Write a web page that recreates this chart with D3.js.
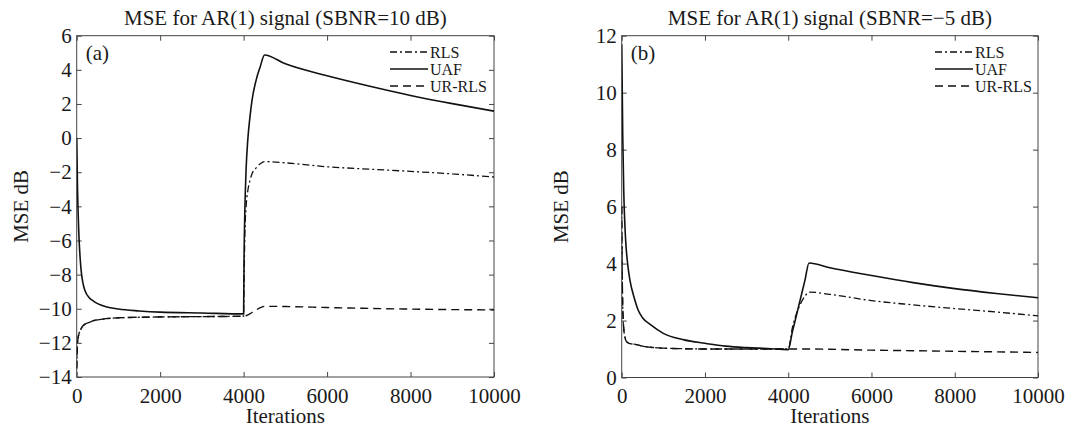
<!DOCTYPE html>
<html>
<head>
<meta charset="utf-8">
<script src="https://cdn.jsdelivr.net/npm/d3@7"></script>
<style>
  html, body { margin: 0; padding: 0; background: #fff; }
  svg { display: block; }
  text { font-family: "Liberation Serif", "DejaVu Serif", serif; fill: #1a1a1a; }
</style>
</head>
<body>
<svg id="chart" width="1068" height="430"></svg>
<script>
// ---------- DATA ----------
const seriesNames = ["RLS", "UAF", "UR-RLS"];
const xTicks = [0, 2000, 4000, 6000, 8000, 10000];

// Panel (a): SBNR = 10 dB
const titleA = "MSE for AR(1) signal (SBNR=10 dB)";
const yTicksA = [-14, -12, -10, -8, -6, -4, -2, 0, 2, 4, 6];
const iterA = [0, 20, 50, 100, 150, 200, 300, 400, 500, 700, 1000, 1500, 2000, 3000, 4000,
               4010, 4030, 4060, 4100, 4150, 4200, 4300, 4400, 4500, 5000, 6000, 7000, 8000, 9000, 10000];
const uafA = [0, -3, -5.5, -7.6, -8.5, -8.95, -9.35, -9.55, -9.7, -9.88, -10.02, -10.13, -10.2, -10.25, -10.3,
              -7.2, -4.2, -1.8, -0.1, 1.2, 2.2, 3.4, 4.2, 4.87, 4.35, 3.65, 3.05, 2.5, 2.02, 1.58];
const rlsA = [-13.5, -12.0, -11.5, -11.2, -11.0, -10.9, -10.8, -10.7, -10.65, -10.58, -10.53, -10.5, -10.48, -10.46, -10.44,
              -8.5, -5.6, -4.0, -3.1, -2.5, -2.1, -1.75, -1.5, -1.38, -1.45, -1.68, -1.82, -1.95, -2.1, -2.28];
const urrlsA = [-13.5, -12.0, -11.5, -11.2, -11.0, -10.9, -10.8, -10.7, -10.65, -10.58, -10.53, -10.5, -10.48, -10.46, -10.44,
                -10.43, -10.42, -10.41, -10.36, -10.3, -10.22, -10.07, -9.94, -9.86, -9.87, -9.93, -9.98, -10.02, -10.05, -10.07];

// Panel (b): SBNR = -5 dB
const titleB = "MSE for AR(1) signal (SBNR=\u22125 dB)";
const yTicksB = [0, 2, 4, 6, 8, 10, 12];
const iterB = [0, 10, 25, 50, 75, 100, 150, 200, 300, 400, 500, 700, 1000, 1500, 2000, 2500, 3000, 3500, 4000,
               4100, 4200, 4300, 4400, 4500, 5000, 6000, 7000, 8000, 9000, 10000];
const uafB = [11.7, 10.5, 8.5, 6.5, 5.4, 4.7, 3.9, 3.4, 2.8, 2.35, 2.1, 1.85, 1.55, 1.32, 1.2, 1.1, 1.05, 1.02, 0.98,
              1.6, 2.2, 2.8, 3.4, 4.02, 3.85, 3.58, 3.33, 3.12, 2.95, 2.8];
const rlsB = [6.0, 4.0, 2.5, 1.7, 1.45, 1.3, 1.22, 1.19, 1.17, 1.14, 1.1, 1.06, 1.03, 1.01, 1.0, 1.0, 1.0, 1.0, 1.0,
              1.75, 2.25, 2.6, 2.85, 3.0, 2.92, 2.7, 2.55, 2.42, 2.3, 2.16];
const urrlsB = [6.0, 4.0, 2.5, 1.7, 1.45, 1.3, 1.22, 1.19, 1.17, 1.14, 1.1, 1.06, 1.03, 1.01, 1.0, 1.0, 1.0, 1.0, 1.0,
                1.0, 1.0, 1.0, 1.0, 1.0, 0.99, 0.96, 0.94, 0.92, 0.9, 0.88];

// ---------- STYLE ----------
const styles = {
  "RLS":    { dash: "7,3,2,3", width: 1.3 },
  "UAF":    { dash: null,      width: 1.6 },
  "UR-RLS": { dash: "8,5",     width: 1.4 }
};

const svg = d3.select("#chart");

function panel(cfg) {
  const x = d3.scaleLinear().domain([0, 10000]).range([cfg.left, cfg.right]);
  const y = d3.scaleLinear().domain(cfg.yDomain).range([cfg.bottom, cfg.top]);
  const g = svg.append("g");

  const clipId = "clip" + cfg.id;
  svg.append("clipPath").attr("id", clipId).append("rect")
    .attr("x", cfg.left).attr("y", cfg.top)
    .attr("width", cfg.right - cfg.left).attr("height", cfg.bottom - cfg.top);

  // axes
  const fs = "21px";
  const bx = g.append("g").attr("transform", `translate(0,${cfg.bottom})`)
    .call(d3.axisBottom(x).tickValues(xTicks).tickFormat(d3.format("d")).tickSizeInner(-5).tickSizeOuter(0).tickPadding(11));
  const lx = g.append("g").attr("transform", `translate(${cfg.left},0)`)
    .call(d3.axisLeft(y).tickValues(cfg.yTicks).tickFormat(d3.format("d")).tickSizeInner(-5).tickSizeOuter(0).tickPadding(5));
  const tx = g.append("g").attr("transform", `translate(0,${cfg.top})`)
    .call(d3.axisTop(x).tickValues(xTicks).tickFormat("").tickSizeInner(-5).tickSizeOuter(0));
  const rx = g.append("g").attr("transform", `translate(${cfg.right},0)`)
    .call(d3.axisRight(y).tickValues(cfg.yTicks).tickFormat("").tickSizeInner(-5).tickSizeOuter(0));
  [bx, lx, tx, rx].forEach(a => {
    a.select(".domain").remove();
    a.selectAll(".tick line").attr("stroke", "#444").attr("stroke-width", 1);
    a.selectAll("text").style("font-family", '"Liberation Serif", serif').style("font-size", fs).attr("fill", "#1a1a1a");
  });
  g.append("rect").attr("x", cfg.left).attr("y", cfg.top)
    .attr("width", cfg.right - cfg.left).attr("height", cfg.bottom - cfg.top)
    .attr("fill", "none").attr("stroke", "#444").attr("stroke-width", 1);

  // lines
  const line = d3.line().x((d) => x(d[0])).y((d) => y(d[1])).curve(d3.curveMonotoneX);
  const order = ["UR-RLS", "RLS", "UAF"];
  order.forEach(name => {
    const vals = cfg.series[name];
    const pts = cfg.iter.map((t, i) => [t, vals[i]]);
    g.append("path").datum(pts)
      .attr("clip-path", `url(#${clipId})`)
      .attr("d", line)
      .attr("fill", "none")
      .attr("stroke", "#111")
      .attr("stroke-width", styles[name].width)
      .attr("stroke-dasharray", styles[name].dash);
  });

  // title
  g.append("text").attr("x", (cfg.left + cfg.right) / 2).attr("y", 25)
    .attr("text-anchor", "middle").style("font-size", "21px").text(cfg.title);
  // x label
  g.append("text").attr("x", (cfg.left + cfg.right) / 2).attr("y", 423)
    .attr("text-anchor", "middle").style("font-size", "21px").text("Iterations");
  // y label
  g.append("text").attr("transform", `translate(${cfg.ylabX},${(cfg.top + cfg.bottom) / 2}) rotate(-90)`)
    .attr("text-anchor", "middle").style("font-size", "21px").text("MSE dB");
  // panel letter
  g.append("text").attr("x", cfg.left + 9).attr("y", cfg.top + 24)
    .style("font-size", "21px").text(cfg.letter);

  // legend
  const lg = g.append("g").attr("transform", `translate(${cfg.legX},${cfg.legY})`);
  seriesNames.forEach((name, i) => {
    const yy = i * 17;
    lg.append("line").attr("x1", 0).attr("x2", 38).attr("y1", yy).attr("y2", yy)
      .attr("stroke", "#111").attr("stroke-width", styles[name].width)
      .attr("stroke-dasharray", styles[name].dash);
    lg.append("text").attr("x", 40).attr("y", yy + 5.5).style("font-size", "16px").text(name);
  });
}

panel({
  id: "A", left: 76.7, right: 494, top: 35.7, bottom: 377, yDomain: [-14, 6], yTicks: yTicksA,
  title: titleA, letter: "(a)", ylabX: 28, legX: 390, legY: 52,
  iter: iterA, series: { "RLS": rlsA, "UAF": uafA, "UR-RLS": urrlsA }
});
panel({
  id: "B", left: 621.7, right: 1038, top: 35.7, bottom: 377.5, yDomain: [0, 12], yTicks: yTicksB,
  title: titleB, letter: "(b)", ylabX: 568, legX: 935, legY: 52,
  iter: iterB, series: { "RLS": rlsB, "UAF": uafB, "UR-RLS": urrlsB }
});
</script>
</body>
</html>
